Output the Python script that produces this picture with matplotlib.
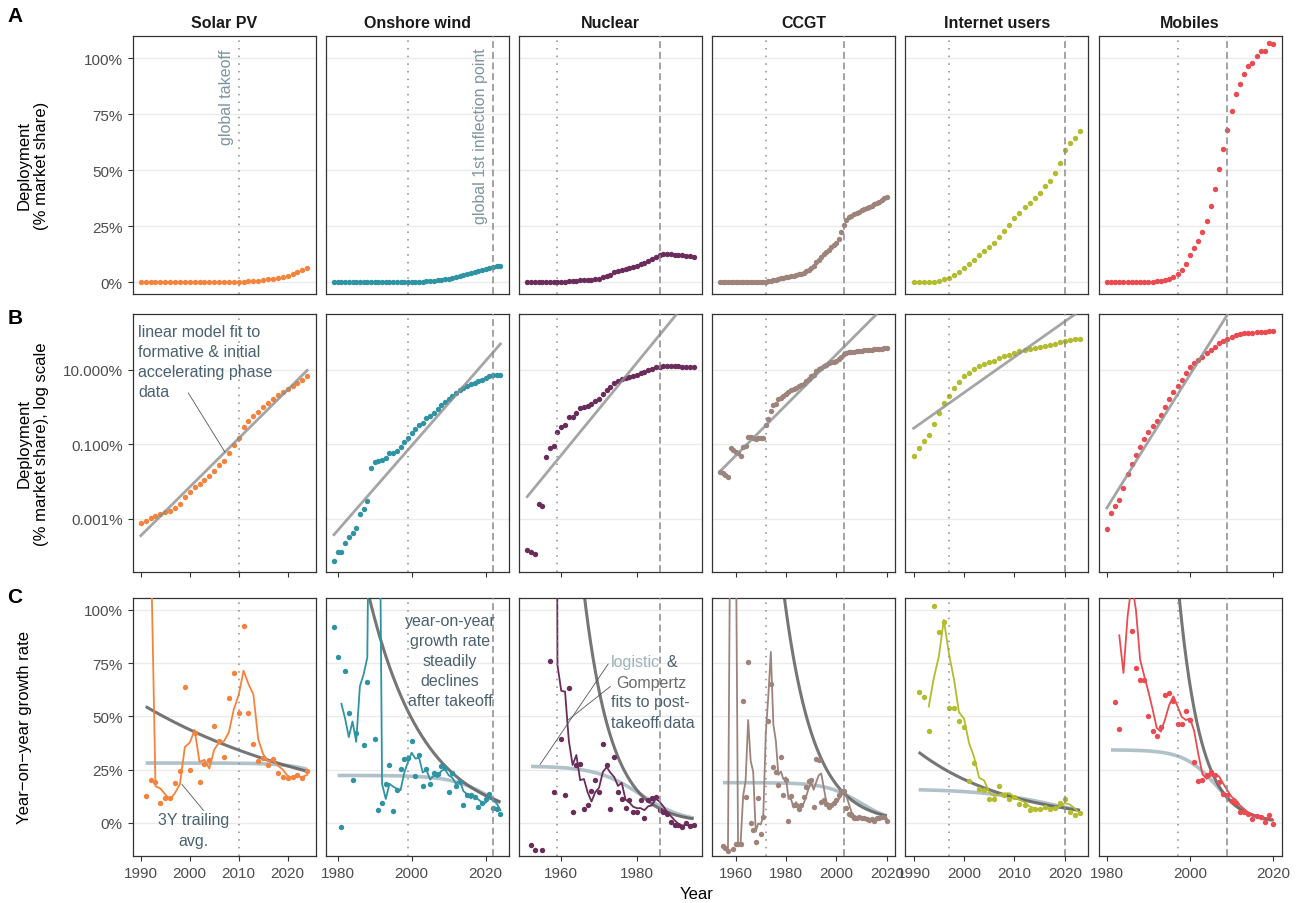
import numpy as np
import pandas as pd
import matplotlib
matplotlib.use("Agg")
import matplotlib.pyplot as plt
from matplotlib.ticker import NullLocator

plt.rcParams["font.family"] = ["Liberation Sans", "DejaVu Sans"]

# ── market share, % of the market (one value per year) ──────────────────────
solar_share = [0.00078, 0.00087, 0.00104, 0.00123, 0.00136, 0.00151, 0.00167, 0.00197,
               0.00247, 0.00396, 0.00518, 0.00705, 0.00865, 0.0111, 0.0139, 0.0197,
               0.0274, 0.0365, 0.0586, 0.098, 0.148, 0.285, 0.430, 0.586, 0.750, 0.98,
               1.31, 1.67, 2.05, 2.47, 3.04, 3.58, 4.40, 5.40, 6.63]
wind_share = [7.5e-5, 1.33e-4, 1.28e-4, 2.23e-4, 3.36e-4, 4.13e-4, 5.86e-4, 1.36e-3,
              1.85e-3, 3.10e-3, 0.0232, 0.0330, 0.0351, 0.0380, 0.0439, 0.0574, 0.0598,
              0.0676, 0.0865, 0.113, 0.148, 0.201, 0.252, 0.330, 0.380, 0.497, 0.586,
              0.705, 0.865, 1.11, 1.36, 1.60, 2.01, 2.32, 2.85, 3.23, 3.65, 4.05, 4.49,
              4.97, 5.40, 6.11, 6.63, 7.05, 7.19, 7.34]
nuclear_share = [1.51e-4, 1.33e-4, 1.13e-4, 2.58e-3, 2.23e-3, 0.0449, 0.0782, 0.0902,
                 0.209, 0.297, 0.330, 0.551, 0.551, 0.705, 0.921, 0.98, 1.04, 1.20, 1.48,
                 1.64, 2.23, 2.91, 3.36, 4.49, 5.07, 5.62, 5.98, 6.50, 6.90, 7.19, 8.15,
                 8.49, 9.60, 10.6, 11.5, 12.0, 12.5, 12.5, 12.5, 12.3, 12.3, 12.0, 11.8,
                 11.8, 11.5]
ccgt_share = [0.0185, 0.0171, 0.0151, 0.0131, 0.0798, 0.0720, 0.0637, 0.0574, 0.0497,
              0.0832, 0.0921, 0.160, 0.160, 0.151, 0.142, 0.148, 0.145, 0.145, 0.330,
              0.477, 0.782, 1.13, 1.23, 1.64, 1.78, 2.01, 2.28, 2.58, 2.79, 3.03, 3.30,
              3.58, 3.88, 4.2, 4.9, 5.7, 6.6, 7.4, 9.0, 10.2, 11.4, 12.6, 13.6, 14.6,
              15.6, 16.5, 17.5, 19.5, 22.3, 25.5, 27.8, 29.0, 29.8, 30.4, 31.0, 31.6,
              32.1, 32.7, 33.2, 33.7, 34.2, 34.8, 35.4, 36.0, 36.8, 37.5, 38.0]
internet_share = [0.0487, 0.0798, 0.125, 0.182, 0.358, 0.690, 1.31, 2.01, 3.16, 4.58,
                  6.63, 7.97, 10.2, 12.2, 14.0, 15.6, 17.4, 20.1, 22.8, 25.4, 28.6,
                  31.1, 33.5, 35.4, 37.5, 39.9, 42.9, 45.4, 48.7, 53.3, 59.2, 62.2,
                  64.4, 67.4]
mobile_share = [5.40e-4, 1.42e-3, 2.18e-3, 3.16e-3, 6.63e-3, 0.0157, 0.0297, 0.0507,
                0.0849, 0.139, 0.214, 0.303, 0.430, 0.624, 0.98, 1.60, 2.47, 3.65, 5.40,
                8.0, 12.1, 15.5, 18.6, 22.3, 27.4, 33.9, 41.5, 50.4, 59.7, 67.9, 76.5,
                84.1, 88.4, 92.9, 96.4, 97.9, 101.0, 103.1, 103.3, 107.0, 106.5]

# ── year-on-year growth of the share, % ─────────────────────────────────────
solar_growth = [380, 12.5, 20.1, 19.0, 9.4, 11.7, 11.9, 18.7, 24.3, 63.8, 25.0, 42.0,
                19.0, 27.8, 29.6, 45.7, 38.2, 31.0, 58.5, 70.2, 51.5, 92.5, 51.5, 37.0,
                29.2, 30.6, 27.3, 30.1, 23.6, 21.4, 21.2, 21.4, 22.3, 21.1, 24.2]
wind_growth = [91.9, 77.7, -1.9, 71.1, 51.6, 20.1, 42.4, 130, 36.5, 66.0, 650, 39.3,
               5.9, 9.5, 18.3, 27.3, 5.5, 15.4, 25.3, 30.0, 30.6, 38.2, 21.8, 31.7, 17.5,
               25.3, 18.1, 23.4, 23.1, 26.7, 25.9, 14.5, 23.4, 17.3, 19.2, 8.3, 12.9,
               13.3, 12.2, 7.5, 9.5, 11.4, 13.7, 7.0, 6.7, 4.4]
nuclear_growth = [-10.5, -12.8, 2180, -12.8, 1900, 75.8, 14.4, 132, 39.5, 13.3, 63.2,
                  5.1, 27.3, 27.8, 6.7, 8.3, 15.1, 20.0, 14.5, 37.1, 27.0, 6.7, 30.9,
                  14.5, 11.1, 7.2, 10.6, 5.1, 5.1, 10.6, 2.3, 10.6, 11.7, 12.0, 6.2, 5.1,
                  4.2, 0.3, -0.8, -0.9, -1.9, 0.0, -1.4, -1.1]
ccgt_growth = [-10.8, -11.7, -13.0, 509, -12.3, -10.0, -10.0, -9.7, 57.4, 12.0, 75.4,
               0.0, -3.4, -8.9, 11.7, -5.0, 2.8, 128, 47.6, 65.0, 26.2, 23.9, 17.6, 30.9,
               12.9, 20.3, 0.8, 12.6, 8.3, 8.3, 6.7, 8.3, 12.2, 16.8, 19.5, 20.0, 7.3,
               30.1, 29.6, 9.8, 10.6, 9.0, 7.5, 8.6, 9.5, 10.6, 13.3, 15.1, 15.1, 7.0,
               4.4, 3.9, 2.3, 2.3, 2.7, 2.3, 2.3, 2.0, 1.2, 1.7, 0.9, 2.5, 2.3, 2.8, 2.7,
               0.8]
internet_growth = [61.6, 59.0, 43.1, 101.6, 89.7, 94.4, 54.0, 54.0, 47.6, 45.2, 19.5,
                   28.0, 16.1, 15.6, 11.2, 11.2, 17.5, 12.9, 11.4, 12.2, 8.9, 8.3, 5.9,
                   6.4, 6.7, 7.5, 6.4, 7.0, 9.5, 11.4, 5.1, 3.6, 4.7]
mobile_growth = [163, 56.9, 44.1, 110, 137, 90.2, 72.5, 67.2, 67.2, 50.1, 42.9, 40.7,
                 44.9, 60.1, 61.0, 57.0, 46.2, 46.2, 52.4, 48.5, 28.5, 19.8, 20.1, 22.3,
                 23.9, 22.3, 19.2, 13.7, 12.9, 10.1, 9.5, 5.1, 5.1, 4.4, 1.7, 3.3, 2.7,
                 0.5, 3.6, -0.3]

names = ["Solar PV", "Onshore wind", "Nuclear", "CCGT", "Internet users", "Mobiles"]
shares = [solar_share, wind_share, nuclear_share, ccgt_share, internet_share, mobile_share]
share_start = [1990, 1979, 1951, 1954, 1990, 1980]
growths = [solar_growth, wind_growth, nuclear_growth, ccgt_growth, internet_growth, mobile_growth]
growth_start = [1990, 1979, 1952, 1955, 1991, 1981]
takeoff = [2010, 1999, 1959, 1972, 1997, 1997]
inflection = [None, 2022, 1986, 2003, 2020, 2009]

# linear model in log space: (first year, last year, log10 % at first year, slope)
lin_fit = [(1990, 2024, -3.446, 0.1302), (1979, 2024, -3.42, 0.1135),
           (1951, 1995, -2.402, 0.1237), (1954, 2020, -1.714, 0.0678),
           (1990, 2023, -0.571, 0.0954), (1980, 2020, -2.705, 0.1786)]
# Gompertz growth rate: (first year, last year, ref year, % at ref year, decay)
gompertz_fit = [(1991, 2024, 1991, 54.6, 0.02465), (1980, 2024, 2000, 49.0, 0.067),
                (1952, 1995, 1968.6, 75.4, 0.139), (1955, 2020, 2000, 18.0, 0.0858),
                (1991, 2023, 1991, 33.2, 0.054), (1981, 2020, 2005, 25.0, 0.19)]
# logistic growth rate: (first year, last year, plateau %, steepness, midpoint)
logistic_fit = [(1991, 2024, 28.1, 0.25, 2032.5), (1980, 2024, 22.3, 0.18, 2022.3),
                (1952, 1995, 26.7, 0.169, 1981.0), (1955, 2020, 18.9, 0.148, 2009.5),
                (1991, 2023, 16.0, 0.129, 2018.8), (1981, 2020, 34.3, 0.25, 2006.5)]

# ── styling ─────────────────────────────────────────────────────────────────
colors = ["#F5833C", "#2E93A3", "#6A2C5A", "#9E837B", "#B3BC2C", "#EA4A50"]
xlims = [(1988.3, 2025.7), (1976.75, 2026.25), (1948.8, 1997.2),
         (1950.7, 2023.3), (1988.35, 2024.65), (1978.0, 2022.0)]
xticks = [[1990, 2000, 2010, 2020], [1980, 2000, 2020], [1960, 1980],
          [1960, 1980, 2000, 2020], [1990, 2000, 2010, 2020], [1980, 2000, 2020]]

ANNOT = "#4A6170"
GREY_TXT = "#4D4D4D"
DOT = 15

W, H = 1298, 904
fig = plt.figure(figsize=(W / 100, H / 100), dpi=100, facecolor="white")

col_left = [132.5 + 193.2 * i for i in range(6)]
col_w = 183
rows = [(36.5, 295), (315, 573), (599, 857)]


def px_axes(x0, y0, x1, y1):
    return fig.add_axes([x0 / W, 1 - y1 / H, (x1 - x0) / W, (y1 - y0) / H])


def base_style(ax, row, col):
    for s in ax.spines.values():
        s.set_color("#333333")
        s.set_linewidth(0.9)
    ax.grid(axis="y", color="#EBEBEB", lw=1.0)
    ax.grid(axis="x", visible=False)
    ax.set_axisbelow(True)
    ax.tick_params(colors="#333333", labelcolor=GREY_TXT, labelsize=11,
                   length=3.5, width=0.8)
    ax.set_xlim(*xlims[col])
    ax.set_xticks(xticks[col])
    if row < 2:
        ax.set_xticklabels([])
    if row == 0:
        ax.tick_params(axis="x", length=0)
    if col > 0:
        ax.tick_params(axis="y", length=0, labelleft=False)


def vlines(ax, col):
    ax.axvline(takeoff[col], color="#8A8A8A", lw=1.1, ls=(0, (1, 4)), zorder=5)
    if inflection[col] is not None:
        ax.axvline(inflection[col], color="#8A8A8A", lw=1.1, ls=(0, (4.5, 2.5)), zorder=5)


pct_ticks = [0, 25, 50, 75, 100]
pct_labels = ["0%", "25%", "50%", "75%", "100%"]

axes = {}
for col in range(6):
    x0 = col_left[col]
    x1 = x0 + col_w
    c = colors[col]
    yrs_s = np.arange(share_start[col], share_start[col] + len(shares[col]))
    share = np.array(shares[col])
    yrs_g = np.arange(growth_start[col], growth_start[col] + len(growths[col]))
    growth = np.array(growths[col], dtype=float)

    # ── row A: linear share ──
    ax = px_axes(x0, rows[0][0], x1, rows[0][1])
    base_style(ax, 0, col)
    ax.set_ylim(-5.2, 110.2)
    ax.set_yticks(pct_ticks)
    if col == 0:
        ax.set_yticklabels(pct_labels)
    ax.scatter(yrs_s, share, s=DOT, color=c, linewidths=0, zorder=3)
    vlines(ax, col)
    ax.set_title(names[col], fontsize=11.5, fontweight="bold", color="#1A1A1A", pad=6)
    axes[(0, col)] = ax

    # ── row B: log share with linear fit ──
    ax = px_axes(x0, rows[1][0], x1, rows[1][1])
    ax.set_yscale("log")
    base_style(ax, 1, col)
    ax.set_ylim(10 ** -4.42, 10 ** 2.49)
    ax.set_yticks([0.001, 0.1, 10])
    ax.yaxis.set_minor_locator(NullLocator())
    if col == 0:
        ax.set_yticklabels(["0.001%", "0.100%", "10.000%"])
    ax.scatter(yrs_s, share, s=DOT, color=c, linewidths=0, zorder=3)
    t0, t1, a, b = lin_fit[col]
    tt = np.linspace(t0, t1, 100)
    ax.plot(tt, 10 ** (a + b * (tt - t0)), color="#8F8F8F", lw=2.0, alpha=0.8, zorder=4)
    vlines(ax, col)
    axes[(1, col)] = ax

    # ── row C: growth rate ──
    ax = px_axes(x0, rows[2][0], x1, rows[2][1])
    base_style(ax, 2, col)
    ax.set_ylim(-15.5, 105.5)
    ax.set_yticks(pct_ticks)
    if col == 0:
        ax.set_yticklabels(pct_labels)
    t0, t1, g0, k, mid = logistic_fit[col]
    tt = np.linspace(t0, t1, 200)
    ax.plot(tt, g0 / (1 + np.exp(k * (tt - mid))), color="#A9BBC5", lw=2.6,
            alpha=0.9, zorder=2, solid_capstyle="butt")
    t0, t1, tref, gref, dec = gompertz_fit[col]
    tt = np.linspace(t0, t1, 200)
    ax.plot(tt, gref * np.exp(-dec * (tt - tref)), color="#5E5E5E", lw=2.2,
            alpha=0.85, zorder=2, solid_capstyle="butt")
    trailing = pd.Series(growth, index=yrs_g).rolling(3).mean()
    ax.plot(trailing.index, trailing.values, color=c, lw=1.3, zorder=3)
    ax.scatter(yrs_g, growth, s=DOT, color=c, linewidths=0, zorder=3)
    vlines(ax, col)
    axes[(2, col)] = ax

# ── annotations ─────────────────────────────────────────────────────────────
ax = axes[(0, 0)]
ax.annotate("global takeoff", xy=(2010, 104.2), xytext=(-3.5, 0),
            textcoords="offset points", rotation=90, ha="right", va="top",
            color="#7D95A0", fontsize=11.5)
ax = axes[(0, 1)]
ax.annotate("global 1st inflection point", xy=(2022, 105), xytext=(-3.5, 0),
            textcoords="offset points", rotation=90, ha="right", va="top",
            color="#7D95A0", fontsize=11.5)

ax = axes[(1, 0)]
ax.text(1989.4, 16.2, "linear model fit to\nformative & initial\naccelerating phase\ndata",
        ha="left", va="center", color=ANNOT, fontsize=11.5, linespacing=1.42, zorder=6)
ax.plot([1999.7, 2007.2], [2.38, 0.0616], color="#555555", lw=0.6, zorder=6)

ax = axes[(2, 0)]
ax.text(2000.7, -3.1, "3Y trailing\navg.", ha="center", va="center", color=ANNOT,
        fontsize=11.5, linespacing=1.5, zorder=6)
ax.plot([1998.4, 2002.8], [18.1, 5.9], color="#555555", lw=0.6, zorder=6)

ax = axes[(2, 1)]
ax.text(2010.4, 76, "year-on-year\ngrowth rate\nsteadily\ndeclines\nafter takeoff",
        ha="center", va="center", color=ANNOT, fontsize=11.5, linespacing=1.42, zorder=6)

ax = axes[(2, 2)]
ax.text(1973.0, 75.7, "logistic", ha="left", va="center", color="#9DB2BD",
        fontsize=11.5, zorder=6)
ax.text(1987.9, 75.7, "&", ha="left", va="center", color=ANNOT, fontsize=11.5, zorder=6)
ax.text(1983.7, 65.7, "Gompertz", ha="center", va="center", color="#6B6B6B",
        fontsize=11.5, zorder=6)
ax.text(1983.5, 56.9, "fits to post-", ha="center", va="center", color=ANNOT,
        fontsize=11.5, zorder=6)
ax.text(1984.3, 47.0, "takeoff data", ha="center", va="center", color=ANNOT,
        fontsize=11.5, zorder=6)
ax.plot([1954.4, 1972.4], [27.4, 74.5], color="#555555", lw=0.6, zorder=6)
ax.plot([1961.6, 1973.0], [48.0, 64.0], color="#555555", lw=0.6, zorder=6)

# ── figure labels ───────────────────────────────────────────────────────────
for letter, ypx in zip("ABC", [17, 318, 598]):
    fig.text(15 / W, 1 - ypx / H, letter, fontsize=15, fontweight="bold",
             ha="center", va="center", color="black")

ylabels = ["Deployment\n(% market share)",
           "Deployment\n(% market share), log scale",
           "Year\u2212on\u2212year growth rate"]
for lab, (top, bot) in zip(ylabels, rows):
    fig.text(17 / W, 1 - (top + bot) / 2 / H, lab, rotation=90, ha="left", va="center",
             multialignment="center", fontsize=12, color="black")

fig.text(697 / W, 1 - 895 / H, "Year", ha="center", va="center", fontsize=12,
         color="black")

fig.savefig("out.png", dpi=100, facecolor="white")
